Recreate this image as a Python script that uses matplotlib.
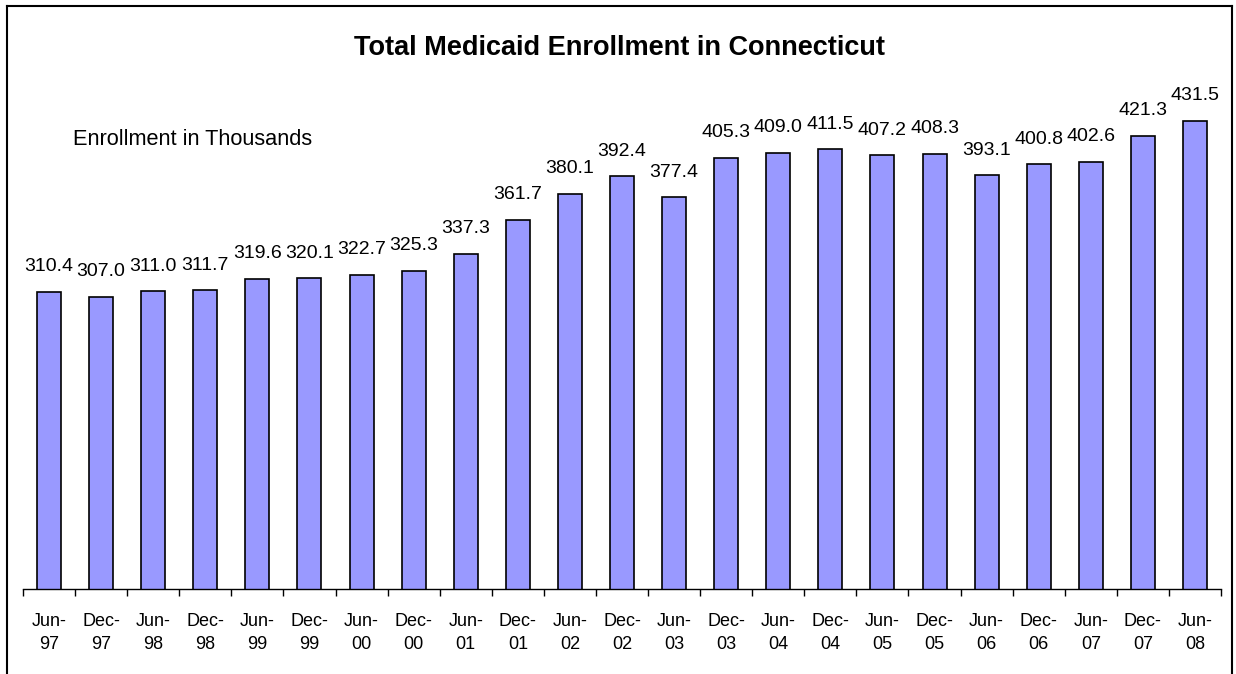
import matplotlib
matplotlib.use("Agg")
import matplotlib.pyplot as plt
from matplotlib.lines import Line2D
import numpy as np

plt.rcParams['font.family'] = ['Liberation Sans', 'DejaVu Sans']

periods = ["Jun-\n97", "Dec-\n97", "Jun-\n98", "Dec-\n98", "Jun-\n99", "Dec-\n99",
           "Jun-\n00", "Dec-\n00", "Jun-\n01", "Dec-\n01", "Jun-\n02", "Dec-\n02",
           "Jun-\n03", "Dec-\n03", "Jun-\n04", "Dec-\n04", "Jun-\n05", "Dec-\n05",
           "Jun-\n06", "Dec-\n06", "Jun-\n07", "Dec-\n07", "Jun-\n08"]
enrollment = [310.4, 307.0, 311.0, 311.7, 319.6, 320.1, 322.7, 325.3, 337.3,
              361.7, 380.1, 392.4, 377.4, 405.3, 409.0, 411.5, 407.2, 408.3,
              393.1, 400.8, 402.6, 421.3, 431.5]

fig = plt.figure(figsize=(12.36, 6.74), dpi=100)
ax = fig.add_axes([23 / 1236, 1 - 589 / 674, (1221 - 23) / 1236, (589 - 95) / 674])

x = np.arange(len(enrollment))
ax.bar(x, enrollment, width=0.46, color="#9999FF", edgecolor="black",
       linewidth=1.2)

# value labels above each bar
for xi, v in zip(x, enrollment):
    ax.annotate(f"{v:.1f}", (xi, v), xytext=(0, 12), textcoords="offset points",
                ha="center", va="bottom", fontsize=14)

ax.set_ylim(100, 450)
ax.set_xlim(-0.5, len(enrollment) - 0.5)

for s in ["top", "right", "left"]:
    ax.spines[s].set_visible(False)
ax.spines["bottom"].set_linewidth(1.0)
ax.set_yticks([])

# tick marks between categories, labels centred under the bars
ax.set_xticks(np.arange(-0.5, len(enrollment), 1.0))
ax.set_xticklabels([])
ax.tick_params(axis="x", length=5, width=1.0, direction="out", color="black")
ax.set_xticks(x, minor=True)
ax.set_xticklabels(periods, minor=True, fontsize=13, linespacing=1.5)
ax.tick_params(axis="x", which="minor", length=0, pad=17)

fig.text(620 / 1236, 1 - 55 / 674, "Total Medicaid Enrollment in Connecticut",
         ha="center", va="baseline", fontsize=19.5, fontweight="bold")
fig.text(73 / 1236, 1 - 145 / 674, "Enrollment in Thousands",
         ha="left", va="baseline", fontsize=15.7)

# outer frame of the chart
fig.add_artist(Line2D([7 / 1236, 7 / 1236], [0, 1 - 6 / 674], color="black", lw=1.5))
fig.add_artist(Line2D([7 / 1236, 1232 / 1236], [1 - 6 / 674, 1 - 6 / 674], color="black", lw=1.5))
fig.add_artist(Line2D([1232 / 1236, 1232 / 1236], [0, 1 - 6 / 674], color="black", lw=1.5))

fig.savefig("out.png", dpi=100)
